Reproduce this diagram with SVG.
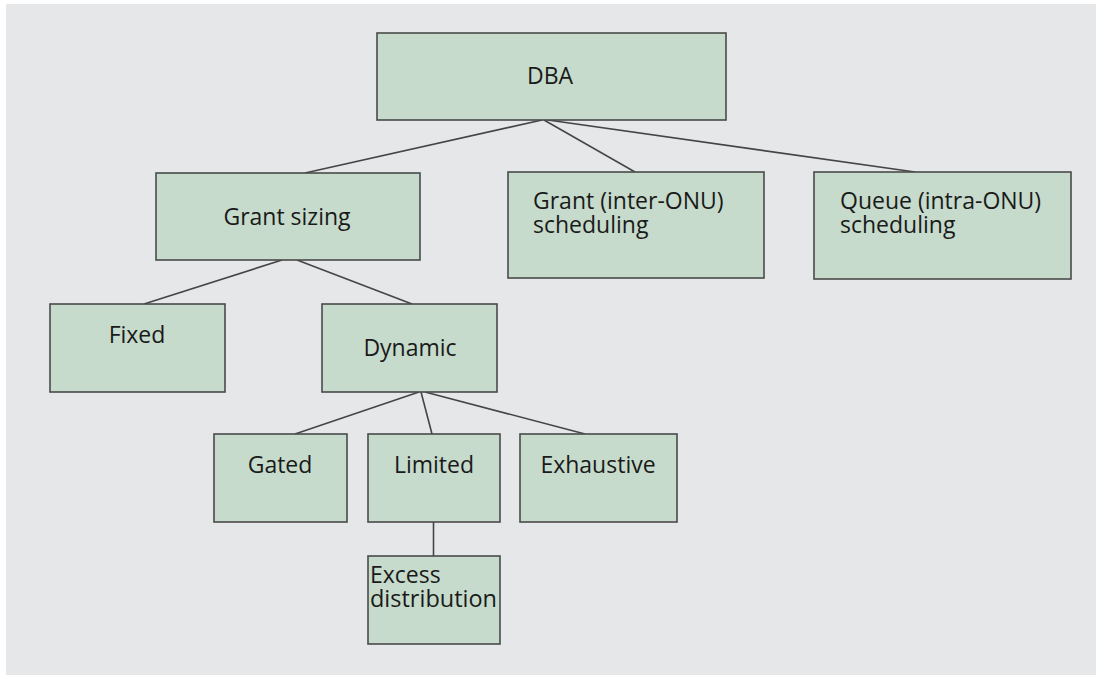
<svg xmlns="http://www.w3.org/2000/svg" width="1096" height="675" viewBox="0 0 1096 675">
  <style>
    .box { fill: #c6dbcb; stroke: #4a4a4a; stroke-width: 1.6; }
    .lbl { font-family: "Open Sans", "Noto Sans", sans-serif; font-size: 23px; font-weight: 500; fill: #1a1a1a; }
    .mid { text-anchor: middle; }
    .edge { stroke: #454545; stroke-width: 1.6; fill: none; }
  </style>
  <rect x="0" y="0" width="1096" height="675" fill="#ffffff"/>
  <rect x="6" y="4" width="1090" height="671" fill="#e6e7e9"/>

  <g id="connectors">
    <line class="edge" x1="542" y1="120" x2="305" y2="173"/>
    <line class="edge" x1="544" y1="120" x2="635" y2="172"/>
    <line class="edge" x1="548" y1="120" x2="915" y2="172"/>
    <line class="edge" x1="282" y1="260" x2="144" y2="304"/>
    <line class="edge" x1="297" y1="260" x2="412" y2="304"/>
    <line class="edge" x1="419" y1="392" x2="295" y2="434"/>
    <line class="edge" x1="421" y1="392" x2="432" y2="434"/>
    <line class="edge" x1="425" y1="392" x2="585" y2="434"/>
    <line class="edge" x1="433.5" y1="522" x2="433.5" y2="556"/>
  </g>

  <g id="dba">
    <rect class="box" x="377" y="33" width="349" height="87"/>
    <text class="lbl mid" x="550" y="84">DBA</text>
  </g>
  <g id="grant-sizing">
    <rect class="box" x="156" y="173" width="264" height="87"/>
    <text class="lbl mid" x="287" y="225">Grant sizing</text>
  </g>
  <g id="grant-scheduling">
    <rect class="box" x="508" y="172" width="256" height="106"/>
    <text class="lbl" x="533" y="209">Grant (inter-ONU)</text>
    <text class="lbl" x="533" y="233">scheduling</text>
  </g>
  <g id="queue-scheduling">
    <rect class="box" x="814" y="172" width="257" height="107"/>
    <text class="lbl" x="840" y="209">Queue (intra-ONU)</text>
    <text class="lbl" x="840" y="233">scheduling</text>
  </g>
  <g id="fixed">
    <rect class="box" x="50" y="304" width="175" height="88"/>
    <text class="lbl mid" x="137" y="343">Fixed</text>
  </g>
  <g id="dynamic">
    <rect class="box" x="322" y="304" width="175" height="88"/>
    <text class="lbl mid" x="410" y="356">Dynamic</text>
  </g>
  <g id="gated">
    <rect class="box" x="214" y="434" width="133" height="88"/>
    <text class="lbl mid" x="280" y="473">Gated</text>
  </g>
  <g id="limited">
    <rect class="box" x="368" y="434" width="132" height="88"/>
    <text class="lbl mid" x="434" y="473">Limited</text>
  </g>
  <g id="exhaustive">
    <rect class="box" x="520" y="434" width="157" height="88"/>
    <text class="lbl mid" x="598" y="473">Exhaustive</text>
  </g>
  <g id="excess-distribution">
    <rect class="box" x="368" y="556" width="132" height="88"/>
    <text class="lbl" x="370" y="583">Excess</text>
    <text class="lbl" x="370" y="607" textLength="127" lengthAdjust="spacingAndGlyphs">distribution</text>
  </g>
</svg>
